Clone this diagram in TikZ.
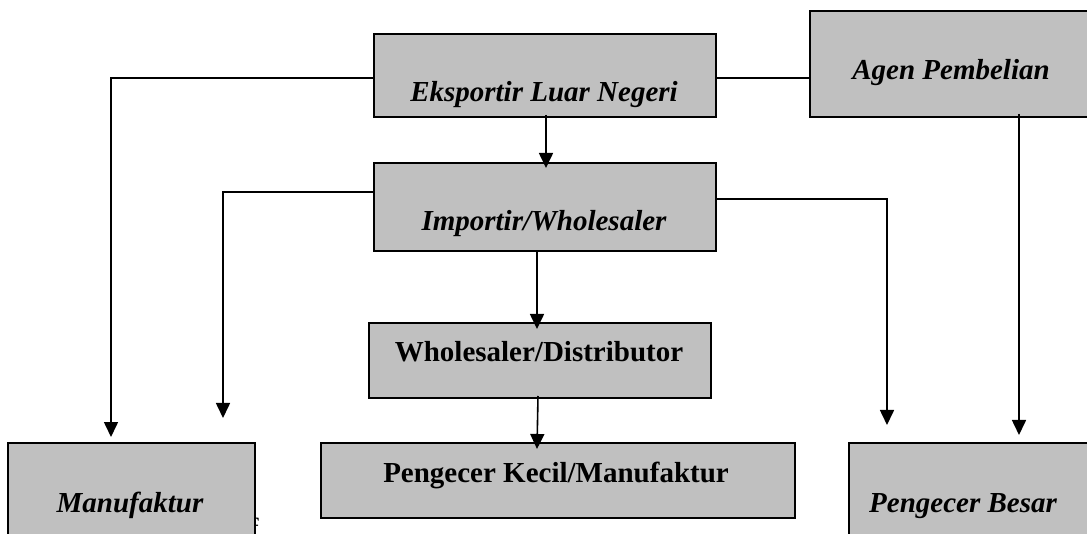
\documentclass[tikz,border=0pt]{standalone}
\usepackage{fontspec}
\setmainfont{Liberation Serif}
\usetikzlibrary{arrows.meta}

\definecolor{boxgray}{HTML}{C0C0C0}

\tikzset{
  chbox/.style={draw=black, line width=2pt, fill=boxgray, inner sep=0pt},
  lbl/.style={anchor=base, inner sep=0pt, font=\fontsize{29}{34}\selectfont\bfseries},
  ilbl/.style={anchor=base, inner sep=0pt, font=\fontsize{29}{34}\selectfont\bfseries\itshape},
  link/.style={line width=1.6pt, draw=black},
  flow/.style={link, -{Triangle[width=14pt,length=15pt]}}
}

\begin{document}
\begin{tikzpicture}[x=1pt, y=-1pt]
  \useasboundingbox (0,0) rectangle (1087,534);
  \clip (0,0) rectangle (1087,534);

  % stray glyph partly covered by the Manufaktur box
  \node[anchor=base west, inner sep=0pt, font=\fontsize{29}{34}\selectfont] (stray) at (249,538) {f};

  % boxes
  \node[chbox, minimum width=342pt, minimum height=83pt]  (eks)  at (545,75.5)   {};
  \node[chbox, minimum width=290pt, minimum height=106pt] (agen) at (955,64)     {};
  \node[chbox, minimum width=342pt, minimum height=88pt]  (imp)  at (545,207)    {};
  \node[chbox, minimum width=342pt, minimum height=75pt]  (whd)  at (540,360.5)  {};
  \node[chbox, minimum width=474pt, minimum height=75pt]  (kec)  at (558,480.5)  {};
  \node[chbox, minimum width=247pt, minimum height=117pt] (man)  at (131.5,501.5){};
  \node[chbox, minimum width=251pt, minimum height=117pt] (bes)  at (974.5,501.5){};

  % labels
  \node[ilbl] (eksT)  at (544,102) {Eksportir Luar Negeri};
  \node[ilbl] (agenT) at (951,80)  {Agen Pembelian};
  \node[ilbl] (impT)  at (544,231) {Importir/Wholesaler};
  \node[lbl]  (whdT)  at (539,362) {Wholesaler/Distributor};
  \node[lbl]  (kecT)  at (556,482) {Pengecer Kecil/Manufaktur};
  \node[ilbl] (manT)  at (130,512) {Manufaktur};
  \node[ilbl] (besT)  at (963,512) {Pengecer Besar};

  % free arrow ends above the bottom row
  \coordinate (manTip)  at (111,437);
  \coordinate (impLTip) at (223,418);
  \coordinate (impRTip) at (887,425);
  \coordinate (agenTip) at (1019,435);

  % connectors
  \draw[flow] ([yshift=-2.5pt]eks.west) -| (manTip);
  \draw[link] ([yshift=-2.5pt]eks.east) -- ([yshift=-2.5pt]eks.east -| agen.west);
  \draw[flow] ([xshift=1pt,yshift=3pt]eks.south) -- ([xshift=1pt,yshift=-6pt]imp.north);
  \draw[flow] ([yshift=15pt]imp.west) -| (impLTip);
  \draw[flow] ([yshift=8pt]imp.east) -| (impRTip);
  \draw[flow] ([xshift=-8pt]imp.south) -- ([xshift=-3pt,yshift=-7pt]whd.north);
  \draw[flow] ([xshift=64pt,yshift=4pt]agen.south) -- (agenTip);
  \draw[flow] ([xshift=-2pt,yshift=3pt]whd.south) -- ([xshift=-21pt,yshift=-7pt]kec.north);
\end{tikzpicture}
\end{document}
